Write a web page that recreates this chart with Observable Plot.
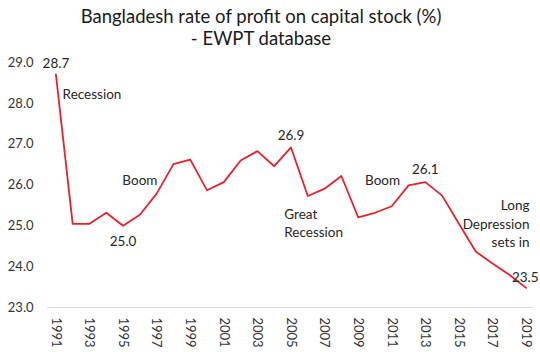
<!DOCTYPE html>
<html>
<head>
<meta charset="utf-8">
<script src="https://cdn.jsdelivr.net/npm/d3@7"></script>
<script src="https://cdn.jsdelivr.net/npm/@observablehq/plot@0.6"></script>
<style>
  html, body { margin: 0; padding: 0; background: #fff; }
  #title { width: 540px; height: 50px; box-sizing: border-box; padding: 5px 18px 0 0; text-align: center;
    font-family: Lato, "Open Sans", sans-serif; font-size: 18.5px; line-height: 22px; color: #1a1a1a; }
  svg { display: block; overflow: visible; }
</style>
</head>
<body>
<div id="title">Bangladesh rate of profit on capital stock (%)<br>- EWPT database</div>
<div id="chart"></div>
<script>
const years = [1991, 1992, 1993, 1994, 1995, 1996, 1997, 1998, 1999, 2000,
  2001, 2002, 2003, 2004, 2005, 2006, 2007, 2008, 2009, 2010,
  2011, 2012, 2013, 2014, 2015, 2016, 2017, 2018, 2019];
const profitRate = [28.71, 25.05, 25.05, 25.32, 25.00, 25.27, 25.79, 26.51, 26.62, 25.87,
  26.07, 26.60, 26.83, 26.46, 26.92, 25.73, 25.91, 26.22, 25.21, 25.32,
  25.48, 25.99, 26.07, 25.74, 25.05, 24.37, 24.08, 23.80, 23.48];
const xTicks = [1991, 1993, 1995, 1997, 1999, 2001, 2003, 2005, 2007, 2009, 2011, 2013, 2015, 2017, 2019];
const yTicks = [23, 24, 25, 26, 27, 28, 29];

const annoText = ["28.7", "Recession", "Boom", "25.0", "26.9", "Great\nRecession", "Boom", "26.1", "Long\nDepression\nsets in", "23.5"];
const annoYear = [1991, 1991.4, 1996, 1995, 2005, 2004.6, 2010.45, 2013, 2019.2, 2018.95];
const annoValue = [29.0, 28.25, 26.15, 24.65, 27.24, 25.09, 26.15, 26.42, 25.08, 23.78];
const annoAnchor = ["middle", "start", "middle", "middle", "middle", "start", "middle", "middle", "end", "middle"];

const data = years.map((year, i) => ({year, value: profitRate[i]}));
const annotations = annoText.map((text, i) => ({text, year: annoYear[i], value: annoValue[i], anchor: annoAnchor[i]}));

const font = "Lato, 'Open Sans', sans-serif";
const chart = Plot.plot({
  width: 540,
  height: 302,
  marginLeft: 47,
  marginRight: 6,
  marginTop: 12,
  marginBottom: 45,
  style: {fontFamily: font, fontSize: "13px", color: "#404040", background: "#fff"},
  x: {type: "linear", domain: [1990.5, 2019.5], label: null},
  y: {domain: [23, 29], label: null},
  marks: [
    Plot.ruleY([23], {stroke: "#d9d9d9", strokeWidth: 1}),
    Plot.axisY({ticks: yTicks, tickFormat: d3.format(".1f"), tickSize: 0, tickPadding: 14, fill: "#333", label: null}),
    Plot.axisX({ticks: xTicks, tickFormat: d => String(d), tickRotate: 90, tickSize: 0, tickPadding: 10, fill: "#333", label: null}),
    Plot.line(data, {x: "year", y: "value", stroke: "#e8212b", strokeWidth: 1.8}),
    ...["start", "middle", "end"].map(a => Plot.text(annotations.filter(d => d.anchor === a), {
      x: "year", y: "value", text: "text", textAnchor: a, lineHeight: 1.385,
      fill: "#262626", fontSize: 13.5
    }))
  ]
});
document.getElementById("chart").appendChild(chart);
</script>
</body>
</html>
